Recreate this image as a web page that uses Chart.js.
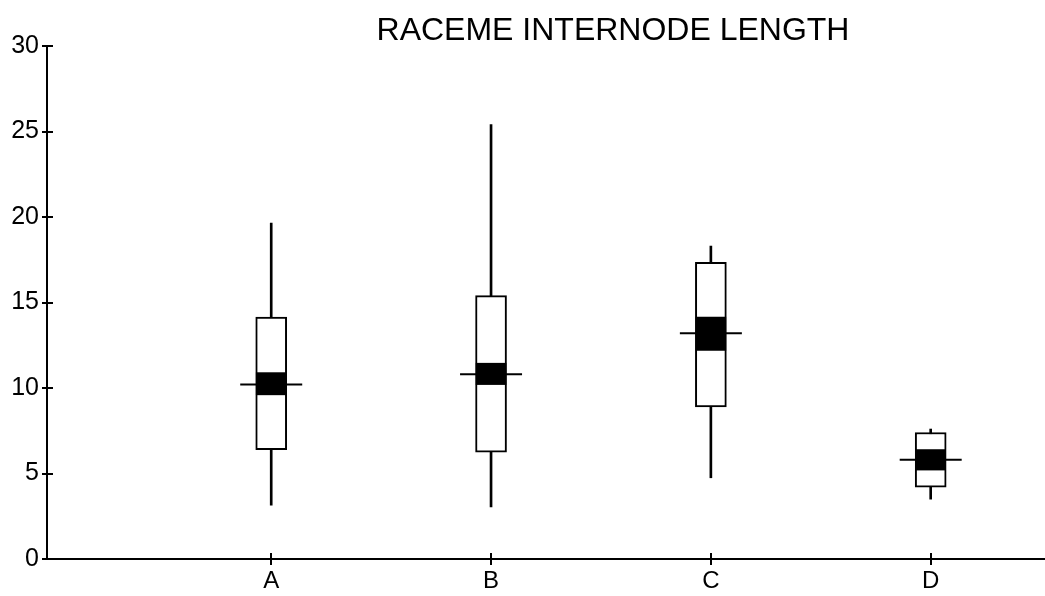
<!DOCTYPE html>
<html>
<head>
<meta charset="utf-8">
<script src="https://cdn.jsdelivr.net/npm/chart.js@4/dist/chart.umd.min.js"></script>
<style>
    html, body { margin: 0; padding: 0; background: #fff; }
    #wrap { width: 1045px; height: 596px; position: relative; }
</style>
</head>
<body>
<div id="wrap"><canvas id="box-chart"></canvas></div>
<script>
// values
const categories = ['A', 'B', 'C', 'D'];
const whiskerLow = [3.15, 3.05, 4.75, 3.5];
const q1 = [6.4, 6.25, 8.9, 4.2];
const ciLow = [9.6, 10.2, 12.2, 5.2];
const median = [10.2, 10.8, 13.2, 5.8];
const ciHigh = [10.9, 11.45, 14.15, 6.4];
const q3 = [14.15, 15.4, 17.35, 7.4];
const whiskerHigh = [19.65, 25.4, 18.3, 7.6];
const yTicks = [0, 5, 10, 15, 20, 25, 30];
const chartTitle = 'RACEME INTERNODE LENGTH';

document.addEventListener('DOMContentLoaded', function() {
    const font = '"Liberation Sans", Arial, sans-serif';
    const xPos = categories.map((c, i) => i + 1);

    // the old plotter draws tick marks across the axis line, and a title off-centre
    const extras = {
        id: 'extras',
        afterDraw(chart) {
            const ctx = chart.ctx;
            const area = chart.chartArea;
            const xs = chart.scales.x, ys = chart.scales.y;
            ctx.save();
            ctx.strokeStyle = '#000';
            ctx.lineWidth = 2;
            ctx.beginPath();
            ys.ticks.forEach(t => {
                const y = Math.round(ys.getPixelForValue(t.value));
                ctx.moveTo(area.left, y);
                ctx.lineTo(area.left + 6, y);
            });
            xs.ticks.forEach(t => {
                const x = Math.round(xs.getPixelForValue(t.value));
                ctx.moveTo(x, area.bottom);
                ctx.lineTo(x, area.bottom - 6);
            });
            ctx.stroke();
            ctx.fillStyle = '#000';
            ctx.font = '32px ' + font;
            ctx.textAlign = 'center';
            ctx.textBaseline = 'middle';
            ctx.fillText(chartTitle, 613, 31);
            ctx.restore();
        }
    };

    const ctx = document.getElementById('box-chart').getContext('2d');
    new Chart(ctx, {
        type: 'bar',
        data: {
            datasets: [{
                type: 'scatter',
                label: 'Median',
                data: xPos.map((x, i) => ({ x: x, y: median[i] })),
                pointStyle: 'line',
                pointRadius: 31,
                pointHoverRadius: 31,
                borderColor: '#000',
                borderWidth: 2,
                order: 0
            },
            {
                label: 'CI',
                data: xPos.map((x, i) => ({ x: x, y: [ciLow[i], ciHigh[i]] })),
                backgroundColor: '#000',
                borderColor: '#000',
                borderWidth: 0,
                barThickness: 30,
                grouped: false,
                order: 1
            },
            {
                label: 'Box',
                data: xPos.map((x, i) => ({ x: x, y: [q1[i], q3[i]] })),
                backgroundColor: '#fff',
                borderColor: '#000',
                borderWidth: 2,
                borderSkipped: false,
                barThickness: 31,
                grouped: false,
                order: 2
            },
            {
                label: 'Range',
                data: xPos.map((x, i) => ({ x: x, y: [whiskerLow[i], whiskerHigh[i]] })),
                backgroundColor: '#000',
                borderWidth: 0,
                barThickness: 2,
                grouped: false,
                order: 3
            }]
        },
        options: {
            responsive: true,
            maintainAspectRatio: false,
            animation: false,
            layout: {
                autoPadding: false,
                padding: { top: 46, right: 0, left: 0, bottom: 0 }
            },
            plugins: {
                legend: { display: false },
                tooltip: { enabled: false }
            },
            scales: {
                x: {
                    type: 'linear',
                    offset: false,
                    min: -0.02,
                    max: 4.52,
                    afterBuildTicks: function(scale) {
                        scale.ticks = xPos.map(v => ({ value: v }));
                    },
                    afterFit: function(scale) {
                        scale.height = 37;
                        scale.paddingLeft = 0;
                        scale.paddingRight = 0;
                    },
                    ticks: {
                        color: '#000',
                        font: { family: font, size: 24 },
                        padding: 2,
                        maxRotation: 0,
                        callback: function(value) {
                            return categories[value - 1];
                        }
                    },
                    grid: {
                        offset: false,
                        drawOnChartArea: false,
                        color: '#000',
                        lineWidth: 2,
                        tickLength: 6
                    },
                    border: { color: '#000', width: 2 }
                },
                y: {
                    min: 0,
                    max: 30,
                    afterBuildTicks: function(scale) {
                        scale.ticks = yTicks.map(v => ({ value: v }));
                    },
                    afterFit: function(scale) { scale.width = 47; },
                    ticks: {
                        color: '#000',
                        font: { family: font, size: 25 },
                        padding: 3
                    },
                    grid: {
                        drawOnChartArea: false,
                        color: '#000',
                        lineWidth: 2,
                        tickLength: 5
                    },
                    border: { color: '#000', width: 2 }
                }
            }
        },
        plugins: [extras]
    });
});
</script>
</body>
</html>
